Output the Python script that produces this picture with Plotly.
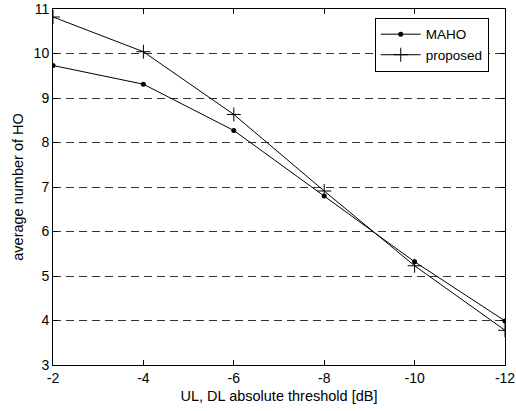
import plotly.graph_objects as go

x_vals = [-2, -4, -6, -8, -10, -12]
maho = [9.73, 9.31, 8.27, 6.80, 5.32, 3.99]
proposed = [10.82, 10.04, 8.63, 6.91, 5.23, 3.78]
x_ticks = [-2, -4, -6, -8, -10, -12]
x_ticktext = ["-2", "-4", "-6", "-8", "-10", "-12"]
y_ticks = [3, 4, 5, 6, 7, 8, 9, 10, 11]

fig = go.Figure()
fig.add_trace(go.Scatter(x=x_vals, y=maho, name="MAHO", mode="lines+markers",
                         line=dict(color="black", width=1),
                         marker=dict(symbol="circle", size=5, color="black")))
fig.add_trace(go.Scatter(x=x_vals, y=proposed, name="proposed", mode="lines+markers",
                         line=dict(color="black", width=1),
                         marker=dict(symbol="cross-thin-open", size=10,
                                     line=dict(color="black", width=1))))

font = "Liberation Sans, Arial, sans-serif"
fig.update_layout(
    width=516, height=411,
    margin=dict(l=53, r=11, t=9, b=46, autoexpand=False),
    paper_bgcolor="white", plot_bgcolor="white",
    font=dict(family=font, size=14, color="black"),
    showlegend=True,
    legend=dict(x=0.964, y=0.975, xanchor="right", yanchor="top",
                bordercolor="black", borderwidth=1, bgcolor="white",
                font=dict(size=13.5), tracegroupgap=0, itemwidth=40),
    xaxis=dict(range=[-2, -12], tickvals=x_ticks, ticktext=x_ticktext,
               ticks="inside", ticklen=5, ticklabeloverflow="allow", automargin=False,
               tickcolor="black", showline=True, linecolor="black", linewidth=1,
               mirror="ticks", showgrid=False, zeroline=False,
               title=dict(text="UL, DL absolute threshold [dB]", font=dict(size=14.5), standoff=6),
               tickfont=dict(size=14)),
    yaxis=dict(range=[3, 11], tickvals=y_ticks, ticks="inside", ticklen=5, automargin=False,
               tickcolor="black", showline=True, linecolor="black", linewidth=1,
               mirror="ticks", showgrid=True, gridcolor="#333", griddash="8px,5px",
               gridwidth=1, zeroline=False,
               title=dict(text="average number of HO", font=dict(size=14.5), standoff=6),
               tickfont=dict(size=14)),
)
fig.write_html("out.html")
